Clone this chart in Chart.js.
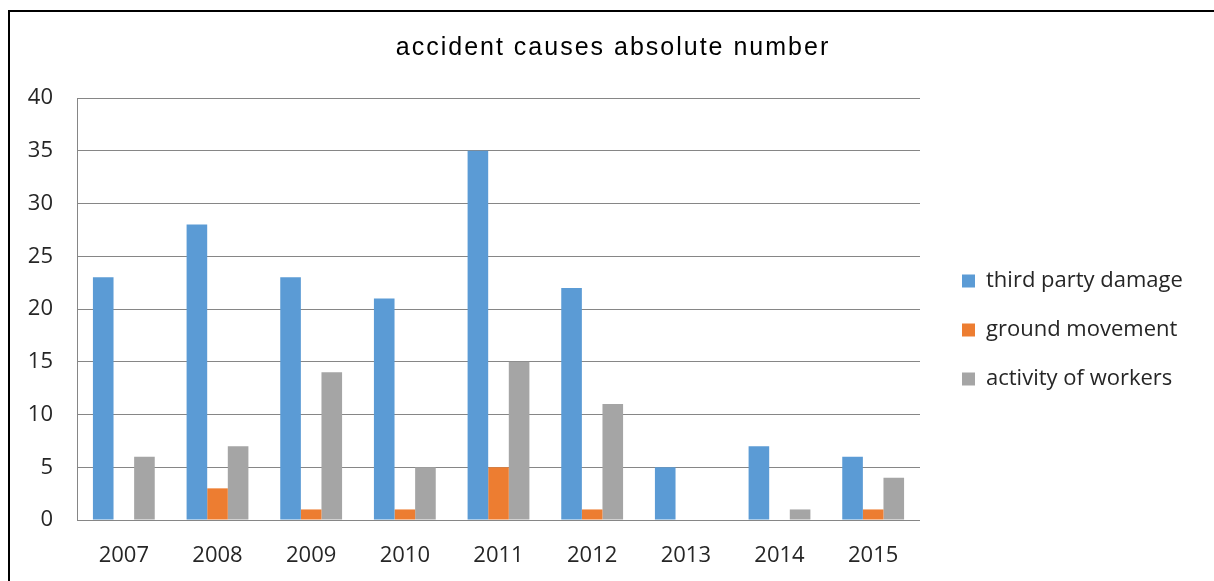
<!DOCTYPE html>
<html>
<head>
<meta charset="utf-8">
<script src="https://cdn.jsdelivr.net/npm/chart.js"></script>
<style>
    html, body { margin: 0; padding: 0; background: #fff; }
    #wrap { position: relative; width: 1214px; height: 581px; overflow: hidden; }
    #frame { position: absolute; left: 8px; top: 10px; right: -2px; bottom: -2px;
             border-top: 2px solid #000; border-left: 2px solid #000; pointer-events: none; }
</style>
</head>
<body>
<div id="wrap">
    <canvas id="myChart" width="1214" height="581"></canvas>
    <div id="frame"></div>
</div>
<script>
    // 데이터
    const years = ['2007', '2008', '2009', '2010', '2011', '2012', '2013', '2014', '2015'];
    const thirdPartyDamage = [23, 28, 23, 21, 35, 22, 5, 7, 6];
    const groundMovement = [0, 3, 1, 1, 5, 1, 0, 0, 1];
    const activityOfWorkers = [6, 7, 14, 5, 15, 11, 0, 1, 4];
    const yMin = 0, yMax = 40, yStep = 5;

    const labelFont = { family: 'Open Sans', size: 22 };
    const gridColor = '#868686';

    // 범례 위치 조정 + 제목 글자 간격
    const tweaks = {
        id: 'tweaks',
        beforeInit(chart) {
            const fit = chart.legend.fit;
            chart.legend.fit = function () {
                fit.call(this);
                this.width = 294;
            };
            const drawTitle = chart.titleBlock.draw;
            chart.titleBlock.draw = function () {
                const c = this.ctx;
                c.save();
                c.letterSpacing = '2px';
                drawTitle.call(this);
                c.restore();
            };
        },
        afterLayout(chart) {
            const lg = chart.legend;
            const w = lg.right - lg.left;
            lg.left = 962 - 27;
            lg.right = lg.left + w;
            lg.top = 243;
        }
    };

    let ctx = document.getElementById('myChart');

    let config = {
        type: 'bar',
        data: {
            labels: years,
            datasets: [
                { label: 'third party damage', data: thirdPartyDamage, backgroundColor: '#5B9BD5' },
                { label: 'ground movement', data: groundMovement, backgroundColor: '#ED7D31' },
                { label: 'activity of workers', data: activityOfWorkers, backgroundColor: '#A5A5A5' }
            ]
        },
        options: {
            responsive: false,
            animation: false,
            datasets: { bar: { categoryPercentage: 0.66, barPercentage: 1 } },
            layout: { padding: { left: 12, right: 0, top: 0, bottom: 0 } },
            plugins: {
                title: {
                    display: true,
                    text: 'accident causes absolute number',
                    color: '#000',
                    font: { family: 'Liberation Sans', size: 25, weight: 'normal' },
                    padding: { top: 33, bottom: 35 }
                },
                legend: {
                    position: 'right',
                    align: 'start',
                    labels: {
                        color: '#262626',
                        font: labelFont,
                        boxWidth: 13,
                        boxHeight: 13,
                        padding: 27
                    }
                },
                tooltip: { enabled: false }
            },
            scales: {
                x: {
                    grid: { display: false, drawTicks: false },
                    border: { display: false },
                    ticks: { color: '#262626', font: labelFont, padding: 23, maxRotation: 0 },
                    afterFit(scale) { scale.height = 61; }
                },
                y: {
                    min: yMin,
                    max: yMax,
                    grid: { color: gridColor, drawTicks: false },
                    border: { display: true, color: gridColor },
                    ticks: { stepSize: yStep, color: '#262626', font: labelFont, padding: 24 },
                    afterFit(scale) { scale.width = 65; }
                }
            }
        },
        plugins: [tweaks]
    };

    let myChart = new Chart(ctx, config);
</script>
</body>
</html>
